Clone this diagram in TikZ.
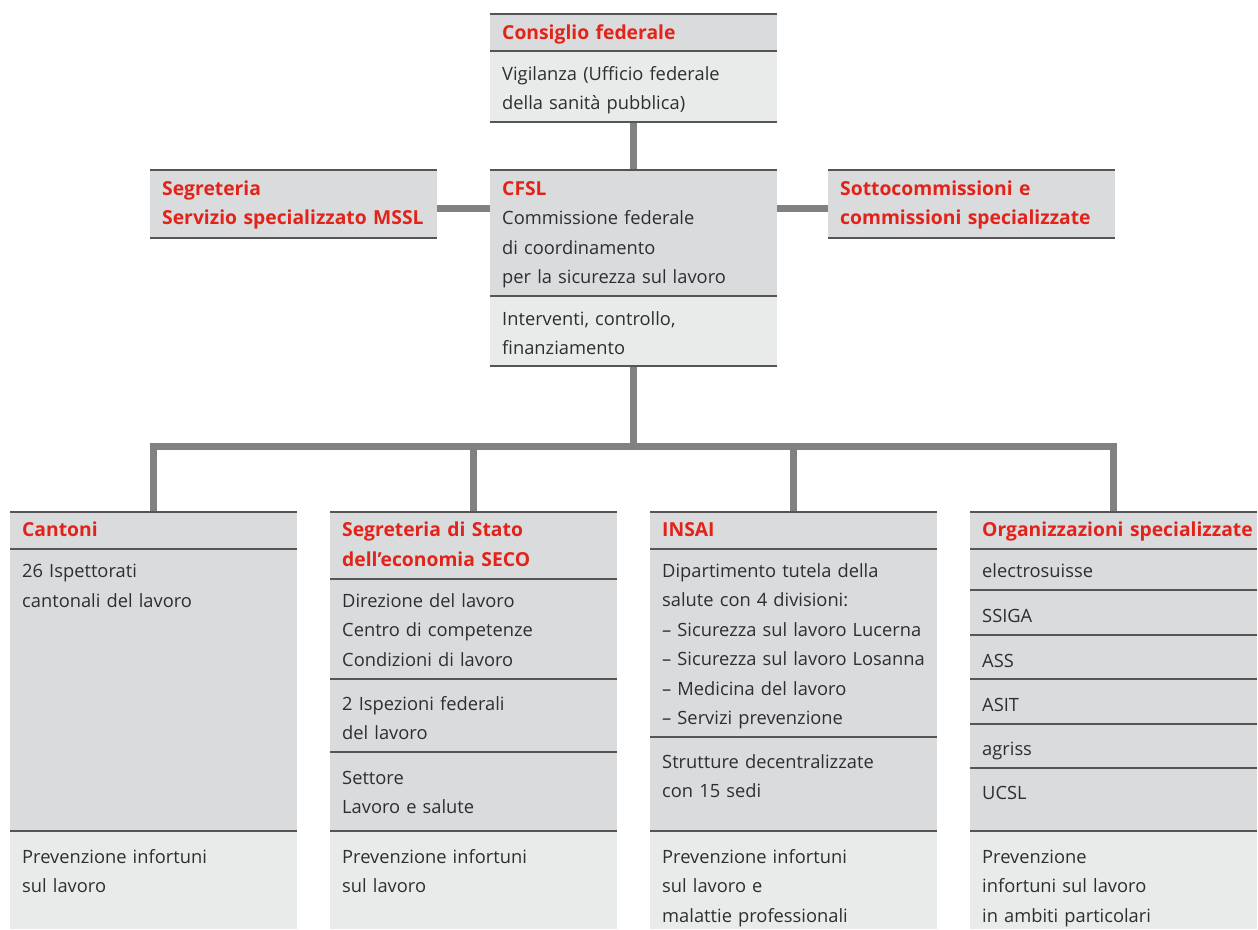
\documentclass[tikz,border=0pt]{standalone}
\usepackage{fontspec}
\setmainfont{Open Sans}
\definecolor{hdr}{HTML}{DADBDD}
\definecolor{lite}{HTML}{E9EAEA}
\definecolor{rulec}{HTML}{555555}
\definecolor{connc}{HTML}{818181}
\definecolor{redt}{HTML}{E2231A}
\definecolor{txtc}{HTML}{2E2E2E}
\newcommand\band[4]{\fill[#4] (#1,#2) rectangle ({#1+287},#3); \draw[sepline] (#1,#2) -- ({#1+287},#2);}
\newcommand\hrl[2]{\draw[sepline] (#1,#2) -- ({#1+287},#2);}
\begin{document}
\begin{tikzpicture}[x=1pt,y=-1pt,
  conline/.style={draw=connc, line width=7pt},
  sepline/.style={draw=rulec, line width=1.2pt},
  boxarea/.style={rectangle, inner sep=0pt, outer sep=0pt, minimum width=287pt},
  body/.style={anchor=base west, inner sep=0pt, text width=320pt, align=left, text=txtc, font=\fontsize{18.3}{29.5}\selectfont},
  head/.style={body, text=redt, font=\bfseries\fontsize{19.3}{29.5}\selectfont}]
\useasboundingbox (0,0) rectangle (1258,929);
% box areas
\node[boxarea, minimum height=108pt] (top) at (633.5,68) {};
\node[boxarea, minimum height=196pt] (cfsl) at (633.5,268) {};
\node[boxarea, minimum height=68pt] (segr) at (293.5,204) {};
\node[boxarea, minimum height=68pt] (sotto) at (971.5,204) {};
\node[boxarea, minimum height=417pt] (cant) at (153.5,720.5) {};
\node[boxarea, minimum height=417pt] (seco) at (473.5,720.5) {};
\node[boxarea, minimum height=417pt] (insai) at (793.5,720.5) {};
\node[boxarea, minimum height=417pt] (org) at (1113.5,720.5) {};
% connectors
\coordinate (bus) at (633.5,446);
\draw[conline] (top.south) -- (cfsl.north);
\draw[conline] ([yshift=-4pt]segr.east) -- ([yshift=-4pt]segr.east -| cfsl.west);
\draw[conline] ([yshift=-4pt]sotto.west) -- ([yshift=-4pt]sotto.west -| cfsl.east);
\draw[conline] (cfsl.south) -- (bus);
\draw[conline] (cant.north) |- (bus -| org.north) -- (org.north);
\draw[conline] (seco.north) -- (seco.north |- bus);
\draw[conline] (insai.north) -- (insai.north |- bus);
% top
\band{490}{14}{51}{hdr}
\band{490}{51}{122}{lite}
\hrl{490}{122}
% cfsl
\band{490}{170}{296}{hdr}
\band{490}{296}{366}{lite}
\hrl{490}{366}
% side boxes
\band{150}{170}{238}{hdr}
\hrl{150}{238}
\band{828}{170}{238}{hdr}
\hrl{828}{238}
% Cantoni
\band{10}{512}{549}{hdr}
\band{10}{549}{831}{hdr}
\band{10}{831}{929}{lite}
% SECO
\band{330}{512}{579}{hdr}
\band{330}{579}{679}{hdr}
\band{330}{679}{752}{hdr}
\band{330}{752}{831}{hdr}
\band{330}{831}{929}{lite}
% INSAI
\band{650}{512}{549}{hdr}
\band{650}{549}{737}{hdr}
\band{650}{737}{831}{hdr}
\band{650}{831}{929}{lite}
% Org
\band{970}{512}{549}{hdr}
\band{970}{549}{590}{hdr}
\band{970}{590}{635}{hdr}
\band{970}{635}{679}{hdr}
\band{970}{679}{724}{hdr}
\band{970}{724}{768}{hdr}
\band{970}{768}{831}{hdr}
\band{970}{831}{929}{lite}
% texts
\node[head] (t01) at (502,39.5) {Consiglio federale};
\node[body] (t02) at (502,80) {Vigilanza (Ufficio federale\\della sanità pubblica)};
\node[head] (t03) at (502,195) {CFSL};
\node[body] (t04) at (502,224.5) {Commissione federale\\di coordinamento\\per la sicurezza sul lavoro};
\node[body] (t05) at (502,325) {Interventi, controllo,\\finanziamento};
\node[head] (t06) at (162,195) {Segreteria\\Servizio specializzato MSSL};
\node[head] (t07) at (840,195) {Sottocommissioni e\\commissioni specializzate};
\node[head] (t08) at (22,536.7) {Cantoni};
\node[body] (t09) at (22,577.7) {26 Ispettorati\\cantonali del lavoro};
\node[body] (t10) at (22,863) {Prevenzione infortuni\\sul lavoro};
\node[head] (t11) at (342,536.7) {Segreteria di Stato\\dell’economia SECO};
\node[body] (t12) at (342,607) {Direzione del lavoro\\Centro di competenze\\Condizioni di lavoro};
\node[body] (t13) at (342,710) {2 Ispezioni federali\\del lavoro};
\node[body] (t14) at (342,784) {Settore\\Lavoro e salute};
\node[body] (t15) at (342,863) {Prevenzione infortuni\\sul lavoro};
\node[head] (t16) at (662,536.7) {INSAI};
\node[body] (t17) at (662,577.3) {Dipartimento tutela della\\salute con 4 divisioni:\\– Sicurezza sul lavoro Lucerna\\– Sicurezza sul lavoro Losanna\\– Medicina del lavoro\\– Servizi prevenzione};
\node[body] (t18) at (662,768) {Strutture decentralizzate\\con 15 sedi};
\node[body] (t19) at (662,863) {Prevenzione infortuni\\sul lavoro e\\malattie professionali};
\node[head] (t20) at (982,536.7) {Organizzazioni specializzate};
\node[body] (t21) at (982,577) {electrosuisse};
\node[body] (t22) at (982,622) {SSIGA};
\node[body] (t23) at (982,667) {ASS};
\node[body] (t24) at (982,711) {ASIT};
\node[body] (t25) at (982,755) {agriss};
\node[body] (t26) at (982,799) {UCSL};
\node[body] (t27) at (982,863) {Prevenzione\\infortuni sul lavoro\\in ambiti particolari};
\end{tikzpicture}
\end{document}
